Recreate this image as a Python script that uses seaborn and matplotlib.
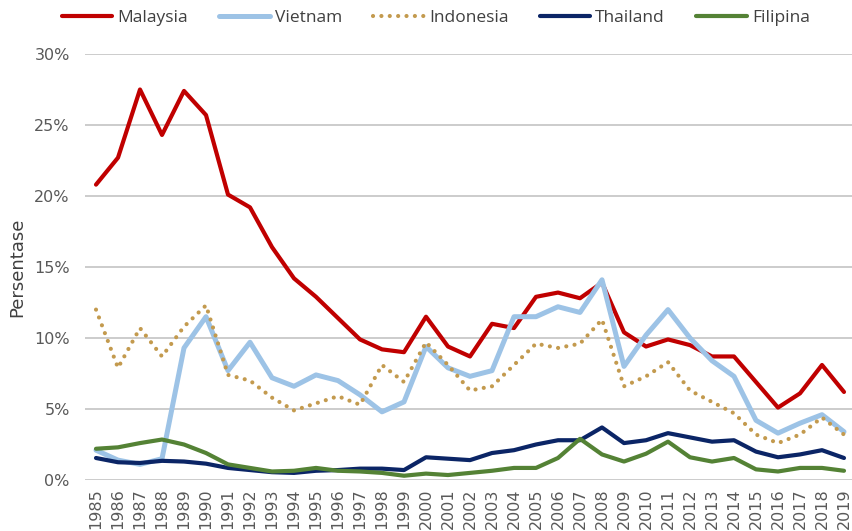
import pandas as pd
import matplotlib.pyplot as plt
import seaborn as sns

# data (percent)
years = list(range(1985, 2020))

malaysia = [20.8, 22.7, 27.5, 24.3, 27.4, 25.7, 20.1, 19.2, 16.4, 14.2,
            12.9, 11.4, 9.9, 9.2, 9.0, 11.5, 9.4, 8.7, 11.0, 10.7,
            12.9, 13.2, 12.8, 13.9, 10.4, 9.4, 9.9, 9.5, 8.7, 8.7,
            6.9, 5.1, 6.1, 8.1, 6.2]
vietnam = [2.1, 1.4, 1.1, 1.5, 9.3, 11.5, 7.7, 9.7, 7.2, 6.6,
           7.4, 7.0, 6.0, 4.8, 5.5, 9.4, 7.9, 7.3, 7.7, 11.5,
           11.5, 12.2, 11.8, 14.1, 8.0, 10.2, 12.0, 10.0, 8.4, 7.3,
           4.2, 3.3, 4.0, 4.6, 3.4]
indonesia = [12.0, 7.9, 10.7, 8.7, 10.8, 12.3, 7.4, 7.0, 5.8, 4.9,
             5.4, 5.9, 5.3, 8.1, 6.9, 9.7, 8.1, 6.3, 6.6, 8.1,
             9.6, 9.3, 9.6, 11.3, 6.6, 7.3, 8.3, 6.3, 5.5, 4.7,
             3.2, 2.6, 3.2, 4.4, 3.2]
thailand = [1.55, 1.25, 1.2, 1.35, 1.3, 1.15, 0.85, 0.7, 0.55, 0.5,
            0.65, 0.7, 0.8, 0.8, 0.7, 1.6, 1.5, 1.4, 1.9, 2.1,
            2.5, 2.8, 2.8, 3.7, 2.6, 2.8, 3.3, 3.0, 2.7, 2.8,
            2.0, 1.6, 1.8, 2.1, 1.55]
filipina = [2.2, 2.3, 2.6, 2.85, 2.5, 1.9, 1.1, 0.85, 0.6, 0.65,
            0.85, 0.65, 0.6, 0.5, 0.3, 0.45, 0.35, 0.5, 0.65, 0.85,
            0.85, 1.55, 2.9, 1.8, 1.3, 1.85, 2.7, 1.6, 1.3, 1.55,
            0.75, 0.6, 0.85, 0.85, 0.65]

df = pd.DataFrame({
    'Tahun': years,
    'Malaysia': malaysia,
    'Vietnam': vietnam,
    'Indonesia': indonesia,
    'Thailand': thailand,
    'Filipina': filipina,
})

gaya = {
    'Malaysia': dict(color='#C00000', lw=3.0, ls='-'),
    'Vietnam': dict(color='#9DC3E6', lw=3.6, ls='-'),
    'Indonesia': dict(color='#C39A4E', lw=3.0, ls=(0, (0.01, 2.0))),
    'Thailand': dict(color='#0B2566', lw=3.0, ls='-'),
    'Filipina': dict(color='#548235', lw=3.0, ls='-'),
}

sns.set_style('white')
plt.rcParams['font.family'] = ['DejaVu Sans']

fig = plt.figure(figsize=(8.53, 5.31), dpi=100)
ax = fig.add_axes([85 / 853, 51 / 531, 770 / 853, 426 / 531])

for negara, g in gaya.items():
    sns.lineplot(data=df, x='Tahun', y=negara, ax=ax, label=negara,
                 color=g['color'], linewidth=g['lw'], linestyle=g['ls'],
                 dash_capstyle='round', solid_capstyle='round')

ax.set_xlim(1984.5, 2019.5)
ax.set_ylim(0, 30)
ax.set_yticks(range(0, 31, 5))
ax.set_yticklabels([f'{v}%' for v in range(0, 31, 5)])
ax.set_xticks(years)
ax.set_xticklabels([str(t) for t in years], rotation=90)
ax.tick_params(axis='both', length=0, labelsize=11.5, colors='#595959')
ax.tick_params(axis='y', pad=11)
ax.tick_params(axis='x', pad=6)
ax.grid(axis='y', color='#C8C8C8', lw=1.3)
ax.set_axisbelow(True)
for s in ax.spines.values():
    s.set_visible(False)

ax.set_xlabel('')
ax.set_ylabel('Persentase', fontsize=13, color='#404040', labelpad=6)

ax.legend(loc='center', bbox_to_anchor=(0.511, 0.966), bbox_transform=fig.transFigure,
          ncol=5, frameon=False, handlelength=2.9, handletextpad=0.3,
          columnspacing=1.8, labelcolor='#404040',
          prop={'family': ['Open Sans', 'DejaVu Sans'], 'size': 12.5})

fig.savefig('out.png', dpi=100)
